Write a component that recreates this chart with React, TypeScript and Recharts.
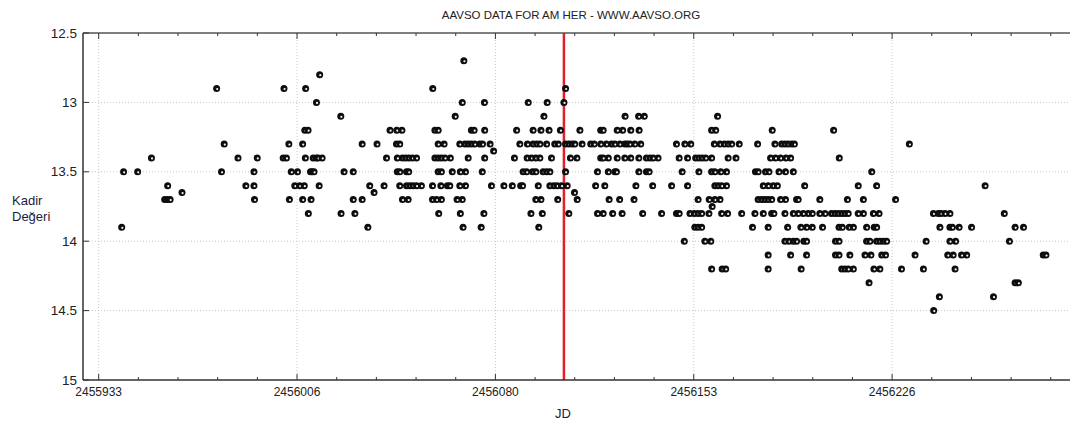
import { ScatterChart, Scatter, XAxis, YAxis, ReferenceLine } from 'recharts';

// Julian date of the first labelled tick; observation times below are days after it
const JD_START = 2455933;

// visual magnitude estimates, one list of observation days per magnitude step
const mag12_70 = [135.0];
const mag12_80 = [81.7];
const mag12_90 = [43.6, 68.5, 76.5, 123.5, 172.6];
const mag13_00 = [80.5, 134.4, 142.6, 158.8, 165.8, 172.0];
const mag13_10 = [89.5, 131.8, 164.6, 194.6, 199.6, 201.7, 228.8];
const mag13_20 = [
  76.2, 77.4, 107.7, 110.2, 112.1, 124.3, 125.5, 137.8, 138.8, 142.7, 154.5, 160.6, 163.5,
  166.5, 170.7, 177.9, 185.6, 186.5, 191.7, 193.7, 196.7, 199.8, 226.6, 228.1, 249.0, 271.7,
];
const mag13_30 = [
  46.4, 70.3, 75.4, 97.4, 102.9, 110.1, 111.3, 125.5, 127.7, 133.5, 135.4, 136.6, 137.8, 139.0,
  140.9, 141.9, 144.7, 155.7, 158.5, 160.6, 161.9, 163.1, 165.6, 168.6, 169.9, 172.6, 173.8,
  175.0, 176.0, 178.7, 181.9, 183.2, 185.6, 187.7, 189.6, 190.8, 192.7, 194.5, 195.4, 196.4,
  198.2, 200.4, 213.6, 216.7, 218.9, 227.6, 229.7, 231.3, 232.7, 234.0, 236.8, 243.6, 250.0,
  252.5, 253.7, 254.9, 256.2, 257.2, 299.7,
];
const mag13_35 = [146.0];
const mag13_40 = [
  19.5, 51.5, 58.6, 68.2, 69.4, 76.4, 79.3, 80.5, 81.1, 82.6, 106.4, 110.4, 112.3, 113.5, 114.7,
  116.0, 117.5, 124.3, 125.5, 126.7, 128.0, 130.0, 136.6, 142.7, 153.7, 158.4, 160.0, 161.6,
  163.1, 167.4, 174.4, 176.8, 185.6, 186.5, 188.4, 191.7, 194.5, 196.7, 199.7, 202.5, 203.8,
  205.0, 206.8, 214.6, 217.7, 220.7, 221.9, 223.1, 224.4, 226.6, 232.7, 235.6, 248.4, 250.2,
  252.1, 254.1, 255.8, 273.8,
];
const mag13_50 = [
  9.2, 14.4, 45.4, 57.4, 71.2, 73.5, 78.3, 78.9, 79.6, 90.7, 94.1, 110.4, 111.3, 113.8, 114.6,
  125.5, 126.7, 130.7, 133.7, 135.6, 141.8, 156.9, 158.2, 160.4, 161.6, 164.3, 165.6, 166.8,
  172.6, 184.4, 188.4, 190.8, 191.4, 199.7, 202.5, 203.5, 215.7, 221.9, 226.6, 227.8, 230.0,
  232.1, 242.8, 243.8, 246.5, 247.8, 251.5, 253.9, 256.8, 285.8,
];
const mag13_60 = [
  25.5, 54.4, 57.4, 72.5, 74.3, 76.0, 81.5, 100.2, 105.5, 111.3, 113.8, 115.0, 116.2, 117.5,
  119.3, 123.4, 126.5, 128.9, 129.8, 133.5, 135.6, 145.2, 149.8, 152.9, 156.0, 156.7, 162.5,
  166.8, 168.3, 169.5, 171.1, 173.2, 183.7, 187.1, 198.6, 204.8, 211.8, 217.7, 227.8, 229.0,
  230.3, 232.1, 245.7, 247.5, 249.4, 250.9, 261.0, 280.8, 287.6, 327.7,
];
const mag13_65 = [30.8, 101.8, 175.9];
const mag13_70 = [
  24.4, 25.4, 26.4, 57.6, 70.5, 75.4, 78.5, 94.1, 97.4, 112.3, 114.4, 123.4, 124.9, 126.7,
  132.5, 134.4, 161.6, 163.5, 169.7, 176.9, 188.7, 192.6, 197.9, 221.6, 225.7, 227.8, 229.7,
  243.8, 245.1, 246.3, 247.5, 248.8, 252.1, 253.9, 258.0, 258.6, 266.6, 276.8, 282.7, 294.6,
];
const mag13_75 = [226.8];
const mag13_80 = [
  77.5, 89.6, 94.7, 125.7, 133.7, 142.4, 159.8, 164.0, 173.8, 184.4, 186.5, 190.0, 193.5, 201.1,
  208.1, 213.6, 214.6, 218.6, 220.2, 221.6, 222.9, 225.6, 230.3, 232.5, 237.7, 242.6, 245.7,
  248.8, 249.6, 253.7, 256.8, 258.6, 260.5, 262.3, 263.8, 266.6, 268.5, 270.9, 272.2, 273.4,
  274.7, 275.9, 277.1, 280.8, 282.7, 286.4, 288.5, 308.6, 310.4, 311.4, 312.9, 314.7, 334.8,
];
const mag13_90 = [
  8.5, 99.5, 134.7, 141.4, 162.7, 220.4, 221.6, 222.9, 241.7, 247.5, 254.7, 259.6, 261.7, 263.8,
  267.6, 273.7, 274.9, 277.5, 279.0, 283.9, 286.7, 287.6, 311.0, 314.7, 315.6, 318.1, 322.7,
  338.8, 341.9,
];
const mag14_00 = [
  216.5, 224.1, 226.3, 253.7, 255.2, 256.8, 258.0, 260.7, 261.7, 272.4, 273.7, 283.9, 285.1,
  287.6, 288.8, 290.1, 291.3, 305.9, 314.7, 316.8, 336.7,
];
const mag14_10 = [
  247.5, 255.8, 261.7, 272.4, 273.7, 277.7, 283.3, 285.5, 289.5, 290.9, 301.8, 313.9, 315.9,
  319.0, 320.9, 349.2, 350.2,
];
const mag14_20 = [
  226.6, 230.5, 231.8, 247.5, 259.7, 274.7, 275.9, 277.1, 279.0, 286.6, 288.8, 296.8, 304.9, 316.6,
];
const mag14_30 = [284.8, 338.8, 340.0];
const mag14_40 = [310.8, 330.8];
const mag14_50 = [308.7];

const magRows: [number, number[]][] = [
  [12.7, mag12_70], [12.8, mag12_80], [12.9, mag12_90], [13.0, mag13_00], [13.1, mag13_10],
  [13.2, mag13_20], [13.3, mag13_30], [13.35, mag13_35], [13.4, mag13_40], [13.5, mag13_50],
  [13.6, mag13_60], [13.65, mag13_65], [13.7, mag13_70], [13.75, mag13_75], [13.8, mag13_80],
  [13.9, mag13_90], [14.0, mag14_00], [14.1, mag14_10], [14.2, mag14_20], [14.3, mag14_30],
  [14.4, mag14_40], [14.5, mag14_50],
];

const observations = magRows.flatMap(([mag, days]) =>
  days.map((d) => ({ jd: JD_START + d, mag }))
);

// axis setup
const xDomain = [2455927.2, 2456292.1];
const xMajorTicks = [2455933, 2456006.333, 2456079.667, 2456153, 2456226.333];
const yTicks = [12.5, 13, 13.5, 14, 14.5, 15];
const yGrid = [13, 13.5, 14, 14.5];
const markerJD = 2456105;

const minorStep = (xMajorTicks[1] - xMajorTicks[0]) / 5;
const xAllTicks: number[] = [];
for (let t = xMajorTicks[0]; t <= xDomain[1]; t += minorStep) xAllTicks.push(t);

const isMajor = (v: number) => xMajorTicks.some((m) => Math.abs(m - v) < 0.01);

const FONT = '"Liberation Sans", Arial, sans-serif';
const AXIS = '#333';

const BottomTick = (props: any) => {
  const { x, y, payload } = props;
  const major = isMajor(payload.value);
  return (
    <g>
      <line x1={x} x2={x} y1={y} y2={y - (major ? 6 : 3)} stroke={AXIS} />
      {major && (
        <text x={x} y={y + 16} textAnchor="middle" fontSize={12} fontFamily={FONT} fill="#222">
          {Math.round(payload.value)}
        </text>
      )}
    </g>
  );
};

const TopTick = (props: any) => {
  const { x, y, payload } = props;
  const major = isMajor(payload.value);
  return <line x1={x} x2={x} y1={y} y2={y + (major ? 6 : 3)} stroke={AXIS} />;
};

const LeftTick = (props: any) => {
  const { x, y, payload } = props;
  return (
    <g>
      <line x1={x} x2={x + 6} y1={y} y2={y} stroke={AXIS} />
      <text x={x - 6} y={y + 4.5} textAnchor="end" fontSize={13.5} fontFamily={FONT} fill="#222">
        {payload.value}
      </text>
    </g>
  );
};

// filled point with a small light glint, gnuplot style
const ObsDot = (props: any) => {
  const { cx, cy } = props;
  return (
    <g>
      <circle cx={cx} cy={cy} r={3.5} fill="#0d0d0d" />
      <circle cx={cx + 0.6} cy={cy + 0.5} r={1.1} fill="#f4f4f4" />
    </g>
  );
};

export default function App() {
  return (
    <div style={{ position: 'absolute', left: 0, top: 0, width: 1070, height: 426, background: '#fff', overflow: 'hidden' }}>
      <ScatterChart width={1070} height={426} margin={{ top: 32, right: 0, bottom: 16, left: 0 }}>
        <XAxis
          dataKey="jd"
          type="number"
          domain={xDomain}
          allowDataOverflow
          ticks={xAllTicks}
          interval={0}
          tickSize={0}
          tickMargin={0}
          tickLine={false}
          tick={<BottomTick />}
          axisLine={{ stroke: AXIS, strokeWidth: 1.5 }}
          height={30}
        />
        <XAxis
          xAxisId="top"
          orientation="top"
          dataKey="jd"
          type="number"
          domain={xDomain}
          allowDataOverflow
          ticks={xAllTicks}
          interval={0}
          tickSize={0}
          tickMargin={0}
          tickLine={false}
          tick={<TopTick />}
          axisLine={{ stroke: '#555', strokeWidth: 1.5 }}
          height={1}
        />
        <YAxis
          dataKey="mag"
          type="number"
          domain={[12.5, 15]}
          reversed
          ticks={yTicks}
          interval={0}
          tickSize={0}
          tickMargin={0}
          tickLine={false}
          tick={<LeftTick />}
          axisLine={{ stroke: AXIS, strokeWidth: 1.5 }}
          width={83}
        />
        {xMajorTicks.map((t) => (
          <ReferenceLine key={'gx' + t} x={t} stroke="#c8c8c8" strokeDasharray="1 2" />
        ))}
        {yGrid.map((m) => (
          <ReferenceLine key={'gy' + m} y={m} stroke="#c8c8c8" strokeDasharray="1 2" />
        ))}
        <Scatter data={observations} shape={<ObsDot />} isAnimationActive={false} />
        <ReferenceLine x={markerJD} stroke="#e3202a" strokeWidth={2.5} />
      </ScatterChart>
      <svg width={1070} height={426} style={{ position: 'absolute', left: 0, top: 0, pointerEvents: 'none' }}>
        <text x={571} y={19} textAnchor="middle" fontSize={11.5} fontFamily={FONT} fill="#222">
          AAVSO DATA FOR AM HER - WWW.AAVSO.ORG
        </text>
        <text x={12} y={205} fontSize={13} fontFamily={FONT} fill="#1c1c3c">Kadir</text>
        <text x={12} y={221} fontSize={13} fontFamily={FONT} fill="#1c1c3c">Değeri</text>
        <text x={563} y={418} textAnchor="middle" fontSize={13} fontFamily={FONT} fill="#1c1c3c">JD</text>
      </svg>
    </div>
  );
}
